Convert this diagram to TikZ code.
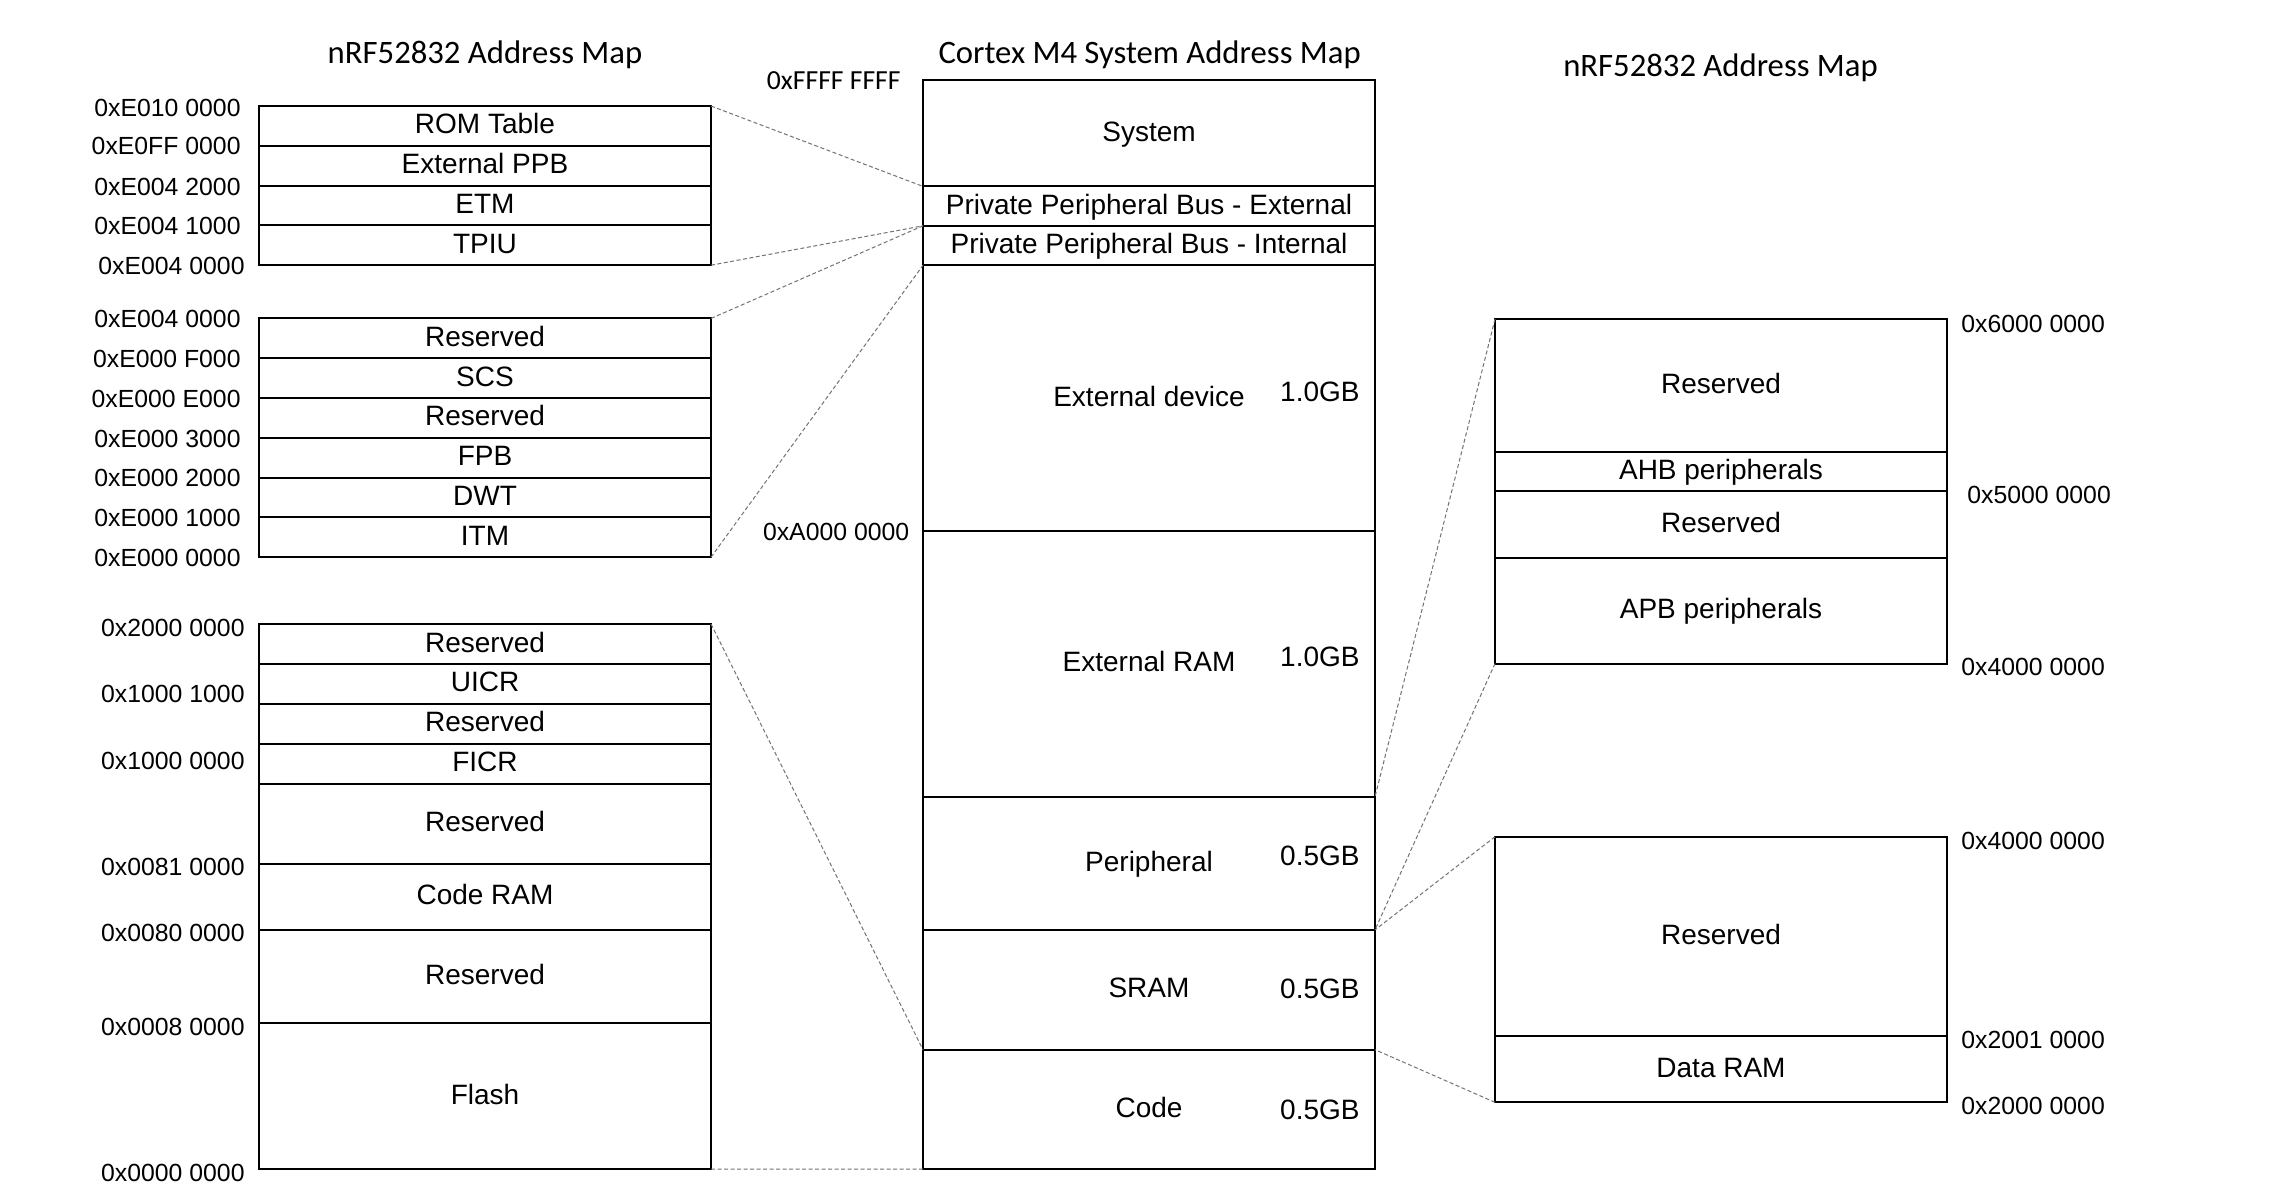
\documentclass[tikz,border=0pt]{standalone}
\usepackage{fontspec}
\setmainfont{Liberation Sans}
\newfontfamily\titlefont{Carlito}
\begin{document}
\begin{tikzpicture}[x=0.5pt,y=-0.5pt,
  cell/.style={draw,line width=1pt,inner sep=0pt,outer sep=0pt,minimum width=226pt,anchor=north west,font=\fontsize{14pt}{16pt}\selectfont,text height=8pt,text depth=0pt},
  addr/.style={inner sep=0pt,font=\fontsize{12.4pt}{14pt}\selectfont,text height=8.8pt,text depth=0pt},
  gbsize/.style={inner sep=0pt,anchor=east,font=\fontsize{14pt}{16pt}\selectfont,text height=10pt,text depth=0pt},
  maptitle/.style={inner sep=0pt,font=\titlefont\fontsize{16.35pt}{18pt}\selectfont,text height=10.5pt,text depth=0pt},
  link/.style={draw=black!55,line width=0.5pt,dash pattern=on 2pt off 1.25pt}]
\fill[white] (0,0) rectangle (2274,1200);
% titles
\node[maptitle] (tleft) at (485,52.5) {nRF52832 Address Map};
\node[maptitle] (tmid) at (1149.6,52.5) {Cortex M4 System Address Map};
\node[maptitle] (tright) at (1720.5,66) {nRF52832 Address Map};
% Cortex M4 map
\node[cell,minimum height=53.4pt] (sys) at (923,79.6) {System};
\node[cell,minimum height=19.7pt] (ppbx) at (923,186.4) {Private Peripheral Bus - External};
\node[cell,minimum height=19.7pt] (ppbi) at (923,225.8) {Private Peripheral Bus - Internal};
\node[cell,minimum height=133pt] (extdev) at (923,265.2) {External device};
\node[cell,minimum height=132.75pt] (extram) at (923,531.2) {External RAM};
\node[cell,minimum height=66.6pt] (periph) at (923,796.7) {Peripheral};
\node[cell,minimum height=59.9pt] (sram) at (923,929.9) {SRAM};
\node[cell,minimum height=59.65pt] (code) at (923,1049.7) {Code};
\node[gbsize] (gb1) at (1360,391) {1.0GB};
\node[gbsize] (gb2) at (1360,656.6) {1.0GB};
\node[gbsize] (gb3) at (1360,855.6) {0.5GB};
\node[gbsize] (gb4) at (1360,988) {0.5GB};
\node[gbsize] (gb5) at (1360,1109) {0.5GB};
\node[maptitle,font=\titlefont\fontsize{13.8pt}{16pt}\selectfont,text height=8.9pt,anchor=east] (atop) at (901,80.4) {0xFFFF FFFF};
\node[addr,anchor=east] (amid) at (909.6,532) {0xA000 0000};
% PPB external
\node[cell,minimum height=19.9pt] (rom) at (259,106) {ROM Table};
\node[cell,minimum height=19.9pt] (extppb) at (259,145.8) {External PPB};
\node[cell,minimum height=19.9pt] (etm) at (259,185.6) {ETM};
\node[cell,minimum height=19.9pt] (tpiu) at (259,225.4) {TPIU};
\node[addr,anchor=east] (a1) at (241,107.2) {0xE010 0000};
\node[addr,anchor=east] (a2) at (241,145.8) {0xE0FF 0000};
\node[addr,anchor=east] (a3) at (241,186.4) {0xE004 2000};
\node[addr,anchor=east] (a4) at (241,225.8) {0xE004 1000};
\node[addr,anchor=east] (a5) at (245,265.2) {0xE004 0000};
% PPB internal
\node[cell,minimum height=19.9pt] (rsva) at (259,318.4) {Reserved};
\node[cell,minimum height=19.9pt] (scs) at (259,358.2) {SCS};
\node[cell,minimum height=19.9pt] (rsvb) at (259,398) {Reserved};
\node[cell,minimum height=19.9pt] (fpb) at (259,437.8) {FPB};
\node[cell,minimum height=19.9pt] (dwt) at (259,477.6) {DWT};
\node[cell,minimum height=19.9pt] (itm) at (259,517.4) {ITM};
\node[addr,anchor=east] (a6) at (241,318.8) {0xE004 0000};
\node[addr,anchor=east] (a7) at (241,358.6) {0xE000 F000};
\node[addr,anchor=east] (a8) at (241,398.4) {0xE000 E000};
\node[addr,anchor=east] (a9) at (241,438.2) {0xE000 3000};
\node[addr,anchor=east] (a10) at (241,478) {0xE000 2000};
\node[addr,anchor=east] (a11) at (241,517.8) {0xE000 1000};
\node[addr,anchor=east] (a12) at (241,557.6) {0xE000 0000};
% code region
\node[cell,minimum height=20pt] (rsvc) at (259,624) {Reserved};
\node[cell,minimum height=19.9pt] (uicr) at (259,664) {UICR};
\node[cell,minimum height=20pt] (rsvd) at (259,703.8) {Reserved};
\node[cell,minimum height=20pt] (ficr) at (259,743.8) {FICR};
\node[cell,minimum height=40pt] (rsve) at (259,783.8) {Reserved};
\node[cell,minimum height=33pt] (coderam) at (259,863.8) {Code RAM};
\node[cell,minimum height=46.6pt] (rsvf) at (259,929.8) {Reserved};
\node[cell,minimum height=73pt] (flash) at (259,1023) {Flash};
\node[addr,anchor=east] (a13) at (245,628) {0x2000 0000};
\node[addr,anchor=east] (a14) at (245,694) {0x1000 1000};
\node[addr,anchor=east] (a15) at (245,760.7) {0x1000 0000};
\node[addr,anchor=east] (a16) at (245,866.7) {0x0081 0000};
\node[addr,anchor=east] (a17) at (245,933) {0x0080 0000};
\node[addr,anchor=east] (a18) at (245,1026.7) {0x0008 0000};
\node[addr,anchor=east] (a19) at (245,1173) {0x0000 0000};
% peripheral region
\node[cell,minimum height=66.4pt] (rsvg) at (1495,319) {Reserved};
\node[cell,minimum height=19.6pt] (ahb) at (1495,451.8) {AHB peripherals};
\node[cell,minimum height=33.35pt] (rsvh) at (1495,491) {Reserved};
\node[cell,minimum height=52.9pt] (apb) at (1495,557.7) {APB peripherals};
\node[addr,anchor=west] (a20) at (1961,323.3) {0x6000 0000};
\node[addr,anchor=west] (a21) at (1967,495) {0x5000 0000};
\node[addr,anchor=west] (a22) at (1961,666.7) {0x4000 0000};
% sram region
\node[cell,minimum height=99.65pt] (rsvi) at (1495,836.7) {Reserved};
\node[cell,minimum height=33.15pt] (dataram) at (1495,1036) {Data RAM};
\node[addr,anchor=west] (a23) at (1961,840.7) {0x4000 0000};
\node[addr,anchor=west] (a24) at (1961,1039.3) {0x2001 0000};
\node[addr,anchor=west] (a25) at (1961,1106) {0x2000 0000};
% zoom lines
\draw[link] (rom.north east) -- (ppbx.north west);
\draw[link] (tpiu.south east) -- (ppbx.south west);
\draw[link] (rsva.north east) -- (ppbi.north west);
\draw[link] (itm.south east) -- (ppbi.south west);
\draw[link] (rsvc.north east) -- (code.north west);
\draw[link] (flash.south east) -- (code.south west);
\draw[link] (rsvg.north west) -- (periph.north east);
\draw[link] (apb.south west) -- (periph.south east);
\draw[link] (rsvi.north west) -- (sram.north east);
\draw[link] (dataram.south west) -- (sram.south east);
\end{tikzpicture}
\end{document}
